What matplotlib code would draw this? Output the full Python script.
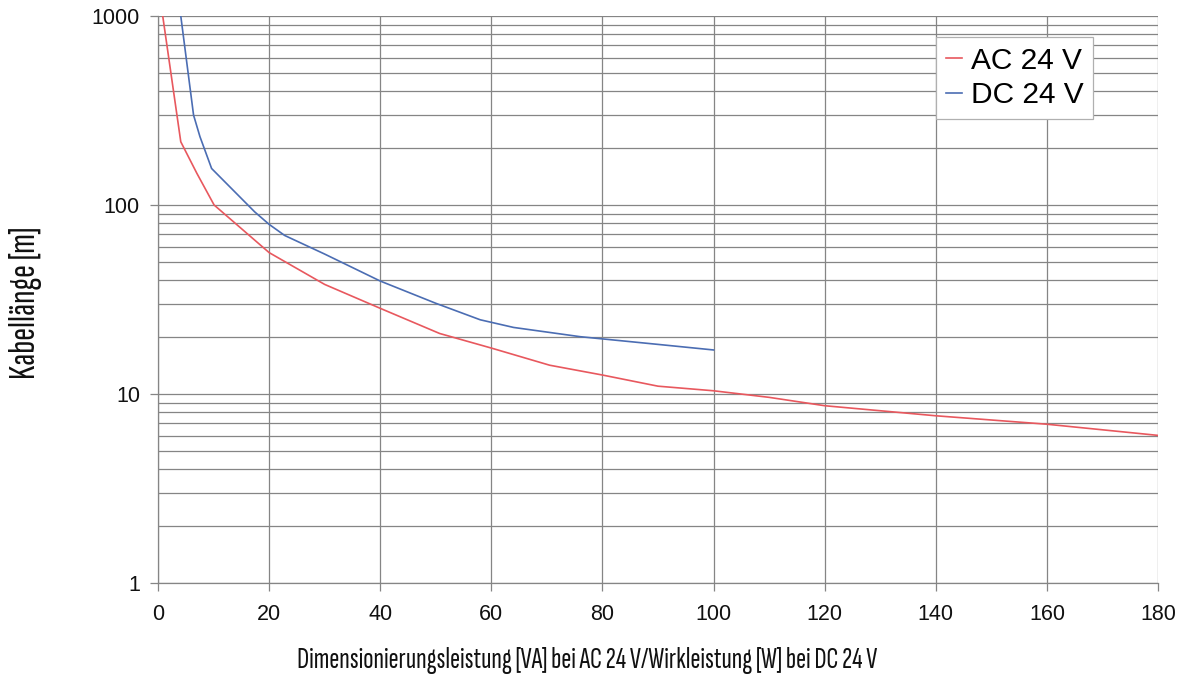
import matplotlib
matplotlib.use("Agg")
import matplotlib.pyplot as plt
from matplotlib.ticker import LogLocator, FixedLocator, NullFormatter, FuncFormatter

ac_x = [0.85, 4.1, 7.0, 10.1, 20, 30, 40, 50.7, 60, 70.5, 80, 90, 100, 110, 120, 140, 160, 180]
ac_y = [1000, 216, 147, 100, 56, 38, 28.4, 20.9, 17.5, 14.2, 12.6, 11.0, 10.4, 9.6, 8.67, 7.67, 6.92, 6.04]
dc_x = [4.1, 6.4, 7.55, 9.65, 17.4, 20, 22.8, 30, 40, 50, 58, 64, 76, 90, 100]
dc_y = [1000, 299, 230, 156, 92, 79, 69, 55, 39.6, 30.2, 24.7, 22.5, 20.1, 18.3, 17.1]
x_ticks = [0, 20, 40, 60, 80, 100, 120, 140, 160, 180]
y_ticks = [1, 10, 100, 1000]
x_label = 'Dimensionierungsleistung [VA] bei AC 24 V/Wirkleistung [W] bei DC 24 V'
y_label = 'Kabellänge [m]'

W, H = 1183, 676
fig = plt.figure(figsize=(W / 100, H / 100), dpi=100)
ax = fig.add_axes([158 / W, 1 - 583 / H, 1000 / W, 567 / H])

grid_c = '#858585'
ax.plot(ac_x, ac_y, color='#e8585e', lw=1.2, label='AC 24 V', zorder=3)
ax.plot(dc_x, dc_y, color='#4b6db3', lw=1.2, label='DC 24 V', zorder=3)

ax.set_yscale('log')
ax.set_xlim(0, 180)
ax.set_ylim(1, 1000)
ax.xaxis.set_major_locator(FixedLocator(x_ticks))
ax.yaxis.set_major_locator(FixedLocator(y_ticks))
ax.yaxis.set_minor_locator(LogLocator(base=10, subs=range(2, 10)))
ax.yaxis.set_minor_formatter(NullFormatter())
ax.yaxis.set_major_formatter(FuncFormatter(lambda v, p: f"{int(round(v))}"))

ax.grid(True, which='major', color=grid_c, lw=0.9)
ax.grid(True, which='minor', axis='y', color=grid_c, lw=0.9)
ax.set_axisbelow(True)
for s in ['top', 'right']:
    ax.spines[s].set_visible(False)
for s in ['left', 'bottom']:
    ax.spines[s].set_color(grid_c)
    ax.spines[s].set_linewidth(0.9)
ax.tick_params(which='major', length=6, color=grid_c, width=0.9,
               labelsize=15.5, labelcolor='#111111')
ax.tick_params(axis='x', pad=9)
ax.tick_params(axis='y', pad=7)
ax.tick_params(which='minor', length=0)
for lab in ax.get_xticklabels() + ax.get_yticklabels():
    lab.set_family(['Liberation Sans', 'DejaVu Sans'])

cond = ['Sofia Sans Extra Condensed', 'Oswald', 'Open Sans Condensed',
        'Liberation Sans Narrow', 'DejaVu Sans']
xl = fig.text(((297 + 878) / 2) / W, 1 - 668 / H, x_label, family=cond, fontsize=18,
              weight='medium', ha='center', va='baseline', color='#111111')
yl = fig.text(35 / W, 1 - 303 / H, y_label, family=cond, fontsize=18, rotation=90,
              weight='medium', rotation_mode='anchor', ha='center', va='baseline',
              color='#111111')

leg = ax.legend(loc='upper left', bbox_to_anchor=(0.778, 0.963),
                prop={'family': ['Liberation Sans', 'DejaVu Sans'], 'size': 21.5},
                handlelength=0.55, handletextpad=0.3, borderpad=0.32, labelspacing=0.22,
                frameon=True, fancybox=False, framealpha=1, borderaxespad=0)
leg.get_frame().set_edgecolor('#b0b0b0')
leg.get_frame().set_linewidth(0.9)

# fit condensed labels to the reference text extents
fig.canvas.draw()
r = fig.canvas.get_renderer()
wx = xl.get_window_extent(r).width
xl.set_fontsize(18 * 581 / wx)
hy = yl.get_window_extent(r).height
yl.set_fontsize(18 * 153 / hy)

fig.savefig('out.png', dpi=100)
